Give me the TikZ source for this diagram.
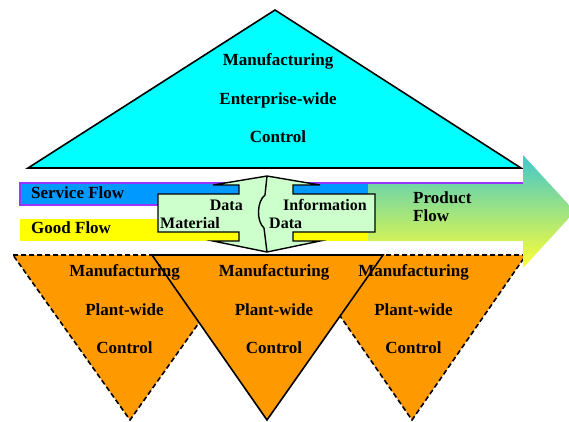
\documentclass[tikz,border=0pt]{standalone}
\usepackage{fontspec}
\setmainfont{Liberation Serif}
\usetikzlibrary{positioning}

\definecolor{enterprise}{RGB}{0,255,255}
\definecolor{plant}{RGB}{255,153,0}
\definecolor{service}{RGB}{0,153,255}
\definecolor{good}{RGB}{255,255,0}
\definecolor{exchange}{RGB}{204,255,204}
\definecolor{servborder}{RGB}{153,51,255}
\definecolor{flowtop}{RGB}{64,200,205}
\definecolor{flowbot}{RGB}{255,255,51}

\begin{document}
\begin{tikzpicture}[x=1bp, y=-1bp,
	lbl/.style={font=\bfseries\fontsize{17bp}{20bp}\selectfont, inner sep=0pt},
	smalllbl/.style={font=\bfseries\fontsize{16bp}{18bp}\selectfont, inner sep=0pt},
	plantedge/.style={line width=1.6bp, fill=plant},
	dashedge/.style={plantedge, dash pattern=on 5bp off 3bp}]

			\useasboundingbox (0,0) rectangle (569,421);

			% Triangulo de topo
			\draw[line width=1.6bp, fill=enterprise] (28,168) -- (275,10) -- (521,168) -- cycle;

			% Triangulos de baixo
			\foreach \l/\r in {13/247, 298/526} {
				\draw[dashedge] (\l,255) -- (\r,255) -- ({(\l+\r)/2},420) -- cycle;
			}
			\draw[plantedge] (152,255) -- (383,255) -- (267,420) -- cycle;

			% Faixas
			\fill[good] (20,219) rectangle (368,241);
			\fill[service] (20,183) rectangle (368,205);
			\draw[servborder, line width=1.5bp] (368,205) -- (20,205) -- (20,183) -- (523,183);

			% Seta de produto
			\begin{scope}
				\clip (0,0) rectangle (569,421);
				\shade[top color=flowtop, bottom color=flowbot] (368,183) -- (523,183) -- (523,155)
					-- (575,211.5) -- (523,268) -- (523,241) -- (368,241) -- cycle;
			\end{scope}
			\draw[servborder, line width=1.5bp] (368,183) -- (523,183);

			% Seta dupla no centro
			\draw[line width=1.4bp, fill=exchange] (267,176) -- (320,185) -- (293,185) -- (293,194)
				-- (375,194) -- (375,232) -- (293,232) -- (293,241) -- (320,241) -- (267,252)
				-- (213,241) -- (239,241) -- (239,232) -- (158,232) -- (158,194) -- (239,194)
				-- (239,185) -- (213,185) -- cycle;
			\draw[line width=1.4bp] (267,176) -- (265,195) .. controls (257,201) and (256,221) .. (264,228) -- (267,252);

			% Textos
			\node[lbl, anchor=base] (ent1) at (278,65.7) {Manufacturing};
			\node[lbl, anchor=base] (ent2) at (278,104.7) {Enterprise-wide};
			\node[lbl, anchor=base] (ent3) at (278,142.7) {Control};

			\foreach \cx/\nm in {124.5/left, 274/mid, 413.5/right} {
				\node[lbl, anchor=base] (\nm1) at (\cx,276.7) {Manufacturing};
				\node[lbl, anchor=base] (\nm2) at (\cx,315.7) {Plant-wide};
				\node[lbl, anchor=base] (\nm3) at (\cx,353.7) {Control};
			}

			\node[lbl, anchor=base west] (service) at (31,198) {Service Flow};
			\node[lbl, anchor=base west] (good) at (31,233) {Good Flow};
			\node[lbl, anchor=base west] (product) at (413,203) {Product};
			\node[lbl, anchor=base west] (flow) at (413,221) {Flow};

			\node[smalllbl, anchor=base east] (data1) at (243,210.5) {Data};
			\node[smalllbl, anchor=base west] (material) at (160,228.5) {Material};
			\node[smalllbl, anchor=base west] (info) at (283,210.5) {Information};
			\node[smalllbl, anchor=base west] (data2) at (269,228.5) {Data};

		\end{tikzpicture}
\end{document}
